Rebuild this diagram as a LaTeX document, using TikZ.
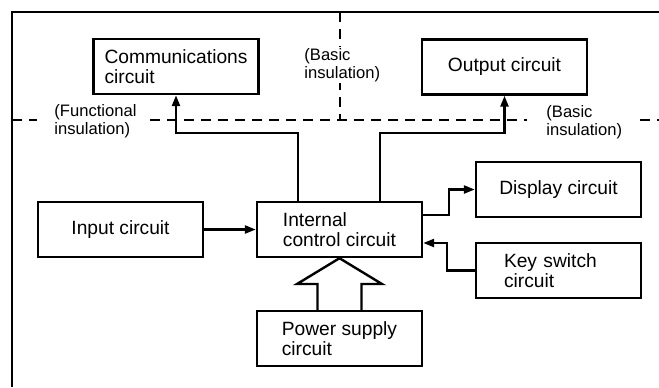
\documentclass[tikz,border=0pt]{standalone}
\usepackage{fontspec}
\setmainfont{Liberation Sans}
\usepackage{tikz}
\usetikzlibrary{arrows.meta, positioning}

\begin{document}
\begin{tikzpicture}[
    x=0.5pt, y=-0.5pt,
    block/.style = {rectangle, draw=black, line width=1.2pt, align=left, font=\fontsize{9.6}{10.2}\selectfont, minimum width=82.5pt, minimum height=27.5pt, inner sep=2pt},
    arrow/.style = {draw=black, line width=1.2pt, -{Triangle[length=5.5pt,width=4pt]}},
    note/.style = {align=left, font=\fontsize{8.3}{7.6}\selectfont, inner sep=1pt, anchor=west},
    insul/.style = {draw=black, line width=1.2pt, dash pattern=on 5pt off 3.5pt}
]
\useasboundingbox (0,0) rectangle (659,387);

% Frame (left and top edges only)
\draw [line width=1.2pt] (12,387) -- (12,12) -- (659,12);

% Insulation boundaries
\draw [insul] (12,120) -- (37,120);
\draw [insul] (150,120) -- (527,120);
\draw [insul] (640,120) -- (659,120);
\draw [insul] (340,12) -- (340,120);

% Insulation labels
\node (funcnote) [note] at (52,121) {(Functional\\insulation)};
\node (basicnoteA) [note, fill=white] at (302,65) {(Basic\\insulation)};
\node (basicnoteB) [note] at (544,122) {(Basic\\insulation)};

% Circuit blocks
\node (comm) [block] at (176,66.5) {Communications\\circuit};
\node (output) [block] at (504.5,67) {Output circuit};
\node (input) [block] at (120.5,229.5) {Input circuit};
\node (internal) [block] at (339.5,229.5) {Internal\\control circuit};
\node (display) [block] at (558.5,189.5) {Display circuit};
\node (keysw) [block, text width=54.5pt] at (558.5,270.5) {Key switch\\circuit};
\node (power) [block] at (339.5,338.5) {Power supply\\circuit};

% Signal flow
\draw [arrow] (input.east) -- (internal.west);
\draw [arrow] ([xshift=-20.75pt]internal.north) -- ++(0,-68) -| (comm.south);
\draw [arrow] ([xshift=20.25pt]internal.north) -- ++(0,-68) -| (output.south);
\draw [arrow] ([yshift=7.25pt]internal.east) -- ++(26,0) |- (display.west);
\draw [arrow] (keysw.west) -- ++(-28,0) |- ([yshift=-6.75pt]internal.east);

% Power feed (hollow arrow)
\draw [line width=1.2pt, line join=miter] (power.north -| 317.5,0) -- (317.5,284) -- (297,284) -- (internal.south) -- (382,284) -- (361.5,284) -- (power.north -| 361.5,0);

\end{tikzpicture}
\end{document}
